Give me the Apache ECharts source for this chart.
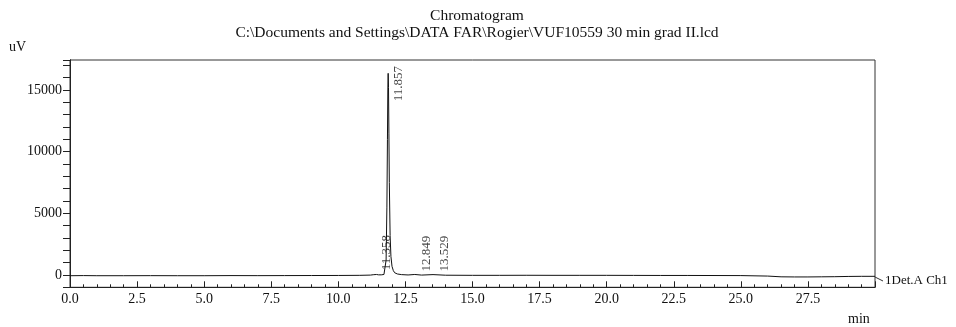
<!DOCTYPE html>
<html>
<head>
<meta charset="utf-8">
<script src="https://cdn.jsdelivr.net/npm/echarts@6/dist/echarts.min.js"></script>
<style>
html,body{margin:0;padding:0;background:#fff;}
#chart{width:956px;height:327px;}
</style>
</head>
<body>
<div id="chart"></div>
<script>
// ---- data ----
var times = [0, 0.5, 1, 2, 3, 4, 5, 6, 7, 8, 9, 10, 10.8, 11.2, 11.3, 11.358, 11.42, 11.5, 11.6, 11.7, 11.75, 11.78, 11.81, 11.83, 11.845, 11.857, 11.87, 11.885, 11.9, 11.93, 11.96, 12.0, 12.05, 12.1, 12.2, 12.35, 12.6, 12.849, 13.1, 13.529, 14, 15, 16, 17, 18, 19, 20, 21, 22, 23, 24, 25, 26, 26.5, 27, 27.5, 28, 28.5, 29, 29.5, 30];
var signal = [-60, -50, -60, -60, -55, -60, -60, -50, -55, -50, -45, -40, -30, -10, 20, 140, 40, 10, 10, 40, 200, 1200, 5500, 11000, 15000, 16350, 15200, 11500, 7500, 3200, 1500, 700, 350, 180, 80, 30, 0, 40, -10, 30, -20, -30, -30, -25, -30, -30, -30, -35, -40, -40, -45, -50, -90, -150, -160, -160, -150, -140, -120, -110, -110];
var peakTimes = ["11.857", "11.358", "12.849", "13.529"];
var peakHeights = [16350, 140, 40, 30];
var yTickLabels = [0, 5000, 10000, 15000];
var xTickLabels = ["0.0", "2.5", "5.0", "7.5", "10.0", "12.5", "15.0", "17.5", "20.0", "22.5", "25.0", "27.5"];

var FONT = '"Liberation Serif", "Times New Roman", serif';
var lineData = times.map(function (t, i) { return [t, signal[i]]; });
var peakData = peakTimes.map(function (t, i) {
  var big = peakHeights[i] > 1000;
  return {
    value: [parseFloat(t), peakHeights[i]],
    label: { offset: big ? [-28, 10] : [3, 12] }
  };
});

var chart = echarts.init(document.getElementById('chart'), null, { renderer: 'canvas' });
var yCommon = {
  type: 'value', min: -1000, max: 17430, interval: 1000, position: 'left',
  splitLine: { show: false },
  axisLine: { show: true, lineStyle: { color: '#222', width: 1 } }
};
chart.setOption({
  animation: false,
  backgroundColor: '#fff',
  title: [
    { text: 'Chromatogram\nC:\\Documents and Settings\\DATA FAR\\Rogier\\VUF10559 30 min grad II.lcd',
      left: 472, top: 2, textAlign: 'center',
      textStyle: { fontFamily: FONT, fontSize: 15.5, fontWeight: 'normal', color: '#111', lineHeight: 17 } },
    { text: 'uV', left: 4, top: 35,
      textStyle: { fontFamily: FONT, fontSize: 14, fontWeight: 'normal', color: '#111' } },
    { text: 'min', left: 843, top: 307,
      textStyle: { fontFamily: FONT, fontSize: 14, fontWeight: 'normal', color: '#111' } }
  ],
  grid: { left: 70, right: 81, top: 60, bottom: 39.7, show: true, borderColor: '#333', borderWidth: 1, backgroundColor: 'transparent' },
  xAxis: {
    type: 'value', min: 0, max: 30, interval: 2.5,
    axisLine: { show: true, onZero: false, lineStyle: { color: '#222', width: 1 } },
    axisTick: { show: true, inside: true, length: 6, lineStyle: { color: '#222' } },
    minorTick: { show: true, splitNumber: 5, length: 3, lineStyle: { color: '#222' } },
    splitLine: { show: false },
    axisLabel: {
      fontFamily: FONT, fontSize: 14, color: '#111', margin: 5,
      formatter: function (v) { var s = v.toFixed(1); return xTickLabels.indexOf(s) >= 0 ? s : ''; }
    }
  },
  yAxis: [
    Object.assign({}, yCommon, {
      axisTick: { show: true, length: 4, lineStyle: { color: '#222' } },
      axisLabel: { show: false }
    }),
    Object.assign({}, yCommon, {
      axisTick: { show: true, length: 7, lineStyle: { color: '#222' },
        interval: function (i, v) { return yTickLabels.indexOf(Number(v)) >= 0; } },
      axisLabel: { show: true, fontFamily: FONT, fontSize: 14, color: '#111', margin: 8,
        formatter: function (v) { return yTickLabels.indexOf(v) >= 0 ? String(v) : ''; } }
    })
  ],
  series: [
    {
      type: 'line', data: lineData, yAxisIndex: 0, showSymbol: false, symbol: 'none',
      lineStyle: { color: '#111', width: 1 },
      endLabel: { show: true, formatter: '1Det.A Ch1', fontFamily: FONT, fontSize: 13, color: '#111', distance: 10, offset: [0, 4] }
    },
    {
      type: 'scatter', data: peakData, yAxisIndex: 0, symbolSize: 0, silent: true,
      label: { show: true, position: 'inside', rotate: 90, align: 'left', verticalAlign: 'middle',
        fontFamily: FONT, fontSize: 13, color: '#111',
        formatter: function (p) { return peakTimes[p.dataIndex]; } }
    }
  ],
  graphic: [
    { type: 'line', shape: { x1: 875, y1: 277, x2: 883, y2: 281 }, style: { stroke: '#333', lineWidth: 1 } }
  ]
});
</script>
</body>
</html>
